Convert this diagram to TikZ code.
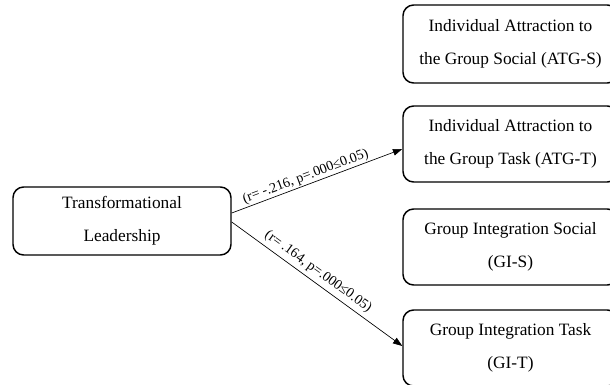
\documentclass[tikz,border=0pt]{standalone}
\usepackage{fontspec}
\setmainfont{Liberation Serif}
\usetikzlibrary{arrows.meta}

\begin{document}
\begin{tikzpicture}[
  x=0.75pt, y=-0.75pt,
  box/.style={draw=black, line width=1.1pt, rounded corners=8pt, align=center,
              font=\fontsize{13}{24.7}\selectfont, minimum width=161.25pt,
              minimum height=57pt, inner sep=0pt},
  ar/.style={-{Triangle[length=7pt, width=5pt]}, draw=black, line width=.5pt},
  lbl/.style={font=\fontsize{10.5}{12}\selectfont, sloped, above},
]
\useasboundingbox (0,0) rectangle (610,385);
\clip (0,0) rectangle (610,385);

\node[box, minimum width=163.5pt, minimum height=51pt] (lead) at (122,221) {Transformational\\Leadership};

\node[box, minimum height=58.5pt] (atgs) at (510.5,44)  {Individual Attraction to\\the Group Social (ATG-S)};
\node[box]                        (atgt) at (510.5,144) {Individual Attraction to\\the Group Task (ATG-T)};
\node[box]                        (gis)  at (510.5,247) {Group Integration Social\\(GI-S)};
\node[box]                        (git)  at (510.5,348) {Group Integration Task\\(GI-T)};

\draw[ar] ([yshift=6pt]lead.east) -- ([yshift=-3.75pt]atgt.west)
  node[lbl, pos=0.45, inner sep=1pt] {(r= -.216, p=.000≤0.05)};
\draw[ar] ([yshift=-0.75pt]lead.east) -- ([yshift=1.5pt]git.west)
  node[lbl, pos=0.47, inner sep=3pt] {(r= .164, p=.000≤0.05)};
\end{tikzpicture}
\end{document}
